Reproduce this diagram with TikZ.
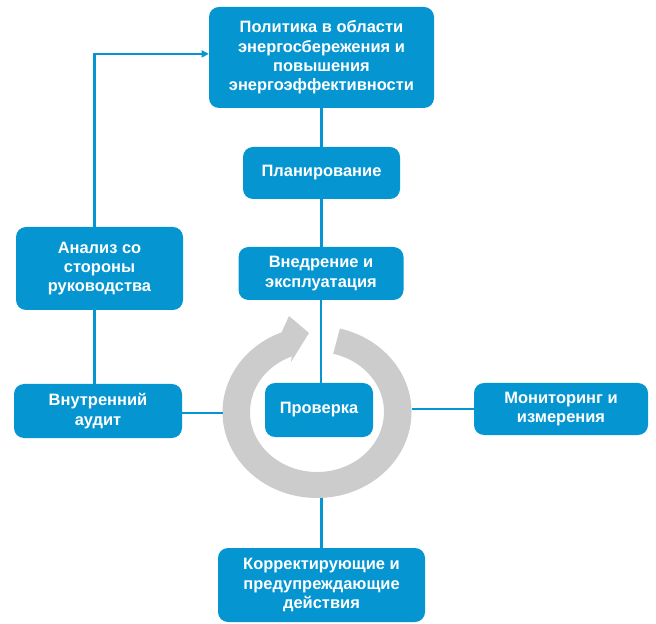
\documentclass[tikz,border=0pt]{standalone}
\usepackage{fontspec}
\setmainfont{Liberation Sans}
\usepackage{tikz}
\usetikzlibrary{calc,arrows.meta}

\definecolor{boxblue}{RGB}{5,150,210}
\definecolor{ringgray}{RGB}{204,204,204}

\tikzset{
  blk/.style={draw=none, fill=boxblue, rounded corners=0.25cm, text=white,
    align=center, inner sep=2pt,
    font=\fontsize{11.7}{13.8}\selectfont\bfseries},
  conn/.style={draw=boxblue, line width=1.5pt}
}

\begin{document}
\begin{tikzpicture}
    \useasboundingbox (0,0) rectangle (16.4,-15.6);

    % connectors behind the ring
    \coordinate (ringW) at (5.57,-10.33);
    \coordinate (ringE) at (10.3,-10.22);
    \coordinate (ringS) at (7.95,-12.45);

    % ring with arrow head
    \coordinate (C) at (7.925,-10.3);
    \coordinate (barbO) at (7.225,-7.9);
    \coordinate (tip) at (7.725,-8.325);
    \coordinate (barbI) at (7.275,-9.05);
    \fill[ringgray] ($(C)+(76:2.3625 and 2.15)$)
        arc[start angle=76, end angle=-248, x radius=2.3625, y radius=2.15]
        -- (barbO) -- (tip) -- (barbI)
        -- ($(C)+(112:1.675 and 1.5)$)
        arc[start angle=112, end angle=436, x radius=1.675, y radius=1.5]
        -- cycle;

    % boxes
    \node [blk, minimum width=5.625cm, minimum height=2.525cm] (pol) at (8.0375,-1.4375)
        {Политика в области\\энергосбережения и\\повышения\\энергоэффективности};
    \node [blk, minimum width=3.925cm, minimum height=1.3cm] (plan) at (8.0375,-4.325)
        {Планирование};
    \node [blk, minimum width=4.125cm, minimum height=1.325cm] (vned) at (8.025,-6.8375)
        {Внедрение и\\эксплуатация};
    \node [blk, minimum width=4.175cm, minimum height=2.075cm] (anal) at (2.4875,-6.7125)
        {Анализ со\\стороны\\руководства};
    \node [blk, minimum width=4.2cm, minimum height=1.35cm] (audit) at (2.45,-10.275)
        {Внутренний\\аудит};
    \node [blk, minimum width=2.7cm, minimum height=1.35cm] (prov) at (7.975,-10.25)
        {Проверка};
    \node [blk, minimum width=4.35cm, minimum height=1.3cm] (mon) at (14.025,-10.225)
        {Мониторинг и\\измерения};
    \node [blk, minimum width=5.175cm, minimum height=1.85cm] (korr) at (8.0375,-14.625)
        {Корректирующие и\\предупреждающие\\действия};

    % connectors
    \draw [conn] (pol.south) -- (plan.north);
    \draw [conn] (plan.south) -- (plan.south |- vned.north);
    \draw [conn] (vned.south) -- (vned.south |- prov.north);
    \draw [conn, -{Triangle[length=5pt,width=5pt]}]
        ([xshift=-0.125cm]anal.north) |- ([yshift=0.09cm]pol.west);
    \draw [conn] ([xshift=-0.125cm]anal.south) -- ([xshift=-0.125cm]anal.south |- audit.north);
    \draw [conn] (audit.east |- ringW) -- (ringW);
    \draw [conn] (ringE) -- (mon.west |- ringE);
    \draw [conn] (korr.north |- ringS) -- (korr.north);
\end{tikzpicture}
\end{document}
